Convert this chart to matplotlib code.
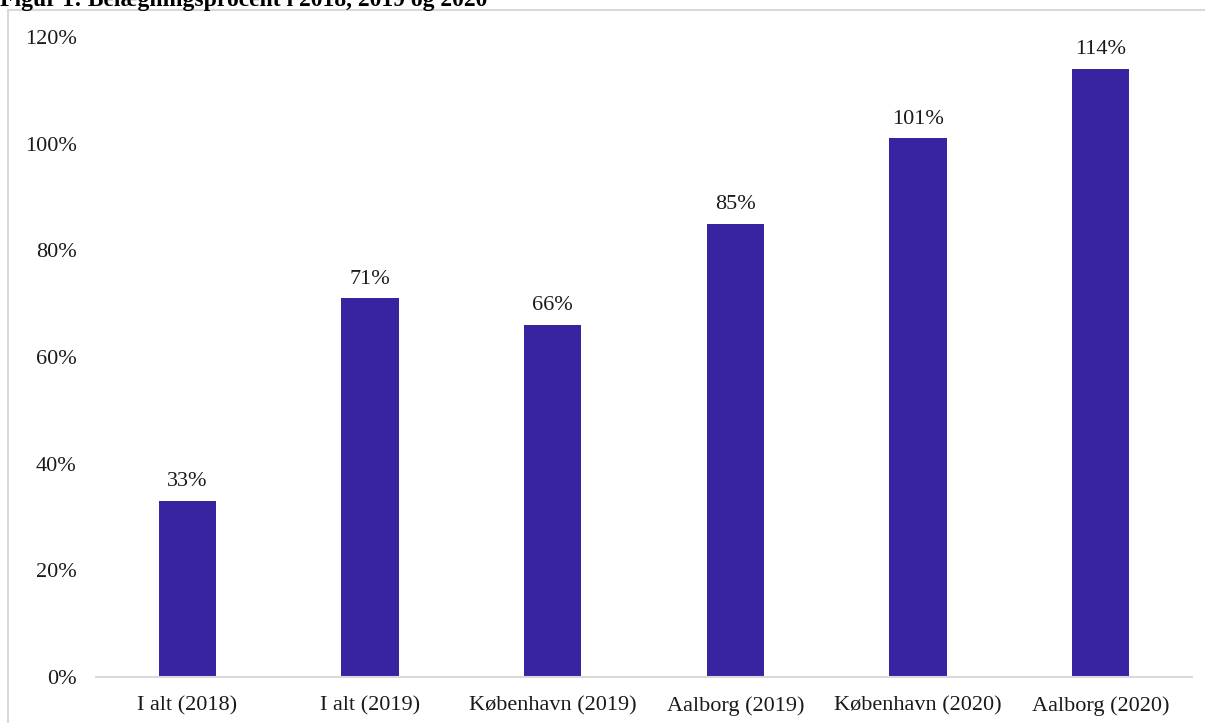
import matplotlib.pyplot as plt
from matplotlib.patches import Rectangle

# Data
categories = ['I alt (2018)', 'I alt (2019)', 'København (2019)',
              'Aalborg (2019)', 'København (2020)', 'Aalborg (2020)']
values = [33, 71, 66, 85, 101, 114]
y_ticks = [0, 20, 40, 60, 80, 100, 120]
title = 'Figur 1: Belægningsprocent i 2018, 2019 og 2020'

bar_color = '#3824a0'
text_color = '#1a1a1a'
grey = '#d9d9d9'
fs = 16

plt.rcParams['font.family'] = ['Liberation Serif', 'DejaVu Serif']

W, H = 1205, 723
fig = plt.figure(figsize=(W / 100, H / 100), dpi=100)

# light grey frame around the chart area (runs off the right and bottom edges)
fig.patches.append(Rectangle((8 / W, -0.1), 1.2, 1 - 10 / H + 0.1,
                             transform=fig.transFigure, fill=False,
                             edgecolor=grey, linewidth=1.5))

# title sits at the very top, partly cropped as in the source
fig.text(0, 1 - 6 / H, title, fontsize=17, fontweight='bold',
         color='black', ha='left', va='baseline')

ax = fig.add_axes([96 / W, 1 - 677 / H, (1192 - 96) / W, (677 - 37) / H])
x = range(len(categories))
bars = ax.bar(x, values, width=0.315, color=bar_color)

for xi, v in zip(x, values):
    ax.annotate(f'{v}%', (xi, v), xytext=(0, 7), textcoords='offset points',
                ha='center', va='bottom', fontsize=fs, color=text_color)

ax.set_xlim(-0.5, len(categories) - 0.5)
ax.set_ylim(0, 120)
ax.set_yticks(y_ticks)
ax.set_yticklabels([f'{t}%' for t in y_ticks])
ax.set_xticks(list(x))
ax.set_xticklabels(categories)
ax.tick_params(axis='both', length=0, labelsize=fs, labelcolor=text_color)
ax.tick_params(axis='y', pad=14)
ax.tick_params(axis='x', pad=14)

for side in ['top', 'right', 'left']:
    ax.spines[side].set_visible(False)
ax.spines['bottom'].set_color(grey)
ax.spines['bottom'].set_linewidth(1.5)
ax.patch.set_visible(False)

fig.savefig('out.png', dpi=100)
